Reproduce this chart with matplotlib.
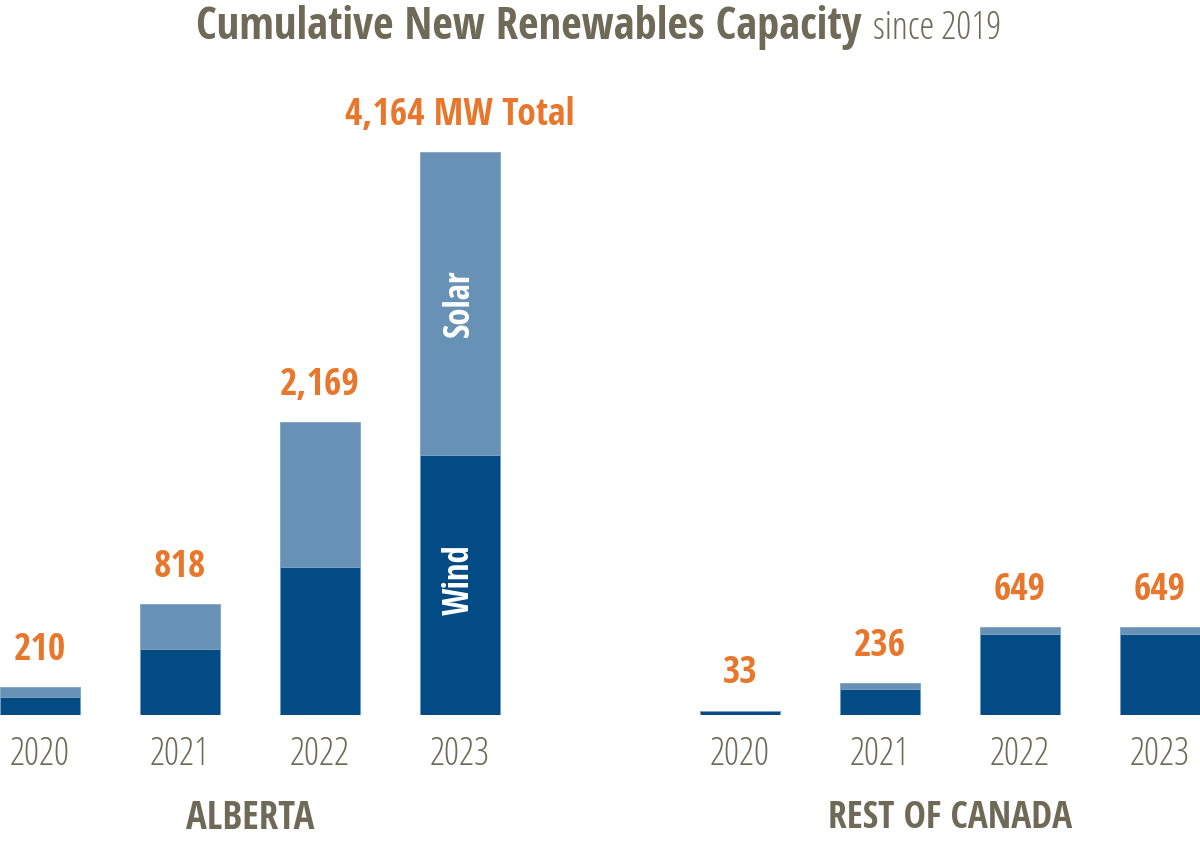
import matplotlib
matplotlib.use('Agg')
import matplotlib.pyplot as plt
from matplotlib import font_manager

# fonts: Open Sans Condensed (bold / light) if present
def find_font(fname, fallback_weight):
    for f in font_manager.fontManager.ttflist:
        if f.fname.endswith(fname):
            return font_manager.FontProperties(fname=f.fname)
    return font_manager.FontProperties(family='DejaVu Sans', weight=fallback_weight)

BOLD = find_font('OpenSans-CondBold.ttf', 'bold')
LIGHT = find_font('OpenSans-CondLight.ttf', 'light')

# data (MW, cumulative since 2019)
years = ['2020', '2021', '2022', '2023']
alberta_wind = [133, 488, 1097, 1923]
alberta_solar = [77, 330, 1072, 2241]
alberta_total = [210, 818, 2169, 4164]
roc_wind = [33, 194, 600, 600]
roc_solar = [0, 42, 49, 49]
roc_total = [33, 236, 649, 649]
alberta_labels = ['210', '818', '2,169', '4,164 MW Total']
roc_labels = ['33', '236', '649', '649']

wind_col = '#024b84'
solar_col = '#6792b5'
orange = '#e8762b'
gray = '#6e6a57'

fig = plt.figure(figsize=(12, 8.43), dpi=100)
ax = fig.add_axes([0, (843 - 715) / 843, 1, (715 - 60) / 843])

x_ab = [0, 1, 2, 3]
x_roc = [5, 6, 7, 8]
w = 80 / 140

for xs, wind, solar, total, labels in [(x_ab, alberta_wind, alberta_solar, alberta_total, alberta_labels),
                                      (x_roc, roc_wind, roc_solar, roc_total, roc_labels)]:
    ax.bar(xs, wind, width=w, color=wind_col, edgecolor='#6f9ac0', linewidth=0.6)
    ax.bar(xs, solar, width=w, bottom=wind, color=solar_col, edgecolor='#7fa3c2', linewidth=0.6)
    for x, t, lab in zip(xs, total, labels):
        ax.annotate(lab, (x, t), xytext=(0, 13), textcoords='offset points',
                    ha='center', va='bottom', color=orange, fontproperties=BOLD, fontsize=27)
    for x, y in zip(xs, years):
        ax.text(x, -150, y, ha='center', va='top', color=gray, fontproperties=LIGHT, fontsize=27)

ax.text(3, alberta_wind[3] + alberta_solar[3] / 2, 'Solar', rotation=90, ha='center', va='center',
        color='white', fontproperties=BOLD, fontsize=25)
ax.text(3, alberta_wind[3] / 2 + 40, 'Wind', rotation=90, ha='center', va='center',
        color='white', fontproperties=BOLD, fontsize=25)

ax.text(1.5, -620, 'ALBERTA', ha='center', va='top', color=gray, fontproperties=BOLD, fontsize=28)
ax.text(6.5, -620, 'REST OF CANADA', ha='center', va='top', color=gray, fontproperties=BOLD, fontsize=27)

ax.set_xlim(-40 / 140, 1160 / 140)
ax.set_ylim(0, (715 - 60) / (563 / 4164))
ax.axis('off')

# title (two parts, bold + light)
fig.text(862 / 1200, (843 - 39) / 843, 'Cumulative New Renewables Capacity', ha='right', va='baseline',
         color=gray, fontproperties=BOLD, fontsize=32)
fig.text(873 / 1200, (843 - 39) / 843, 'since 2019', ha='left', va='baseline',
         color=gray, fontproperties=LIGHT, fontsize=27)

fig.savefig('out.png', dpi=100)
